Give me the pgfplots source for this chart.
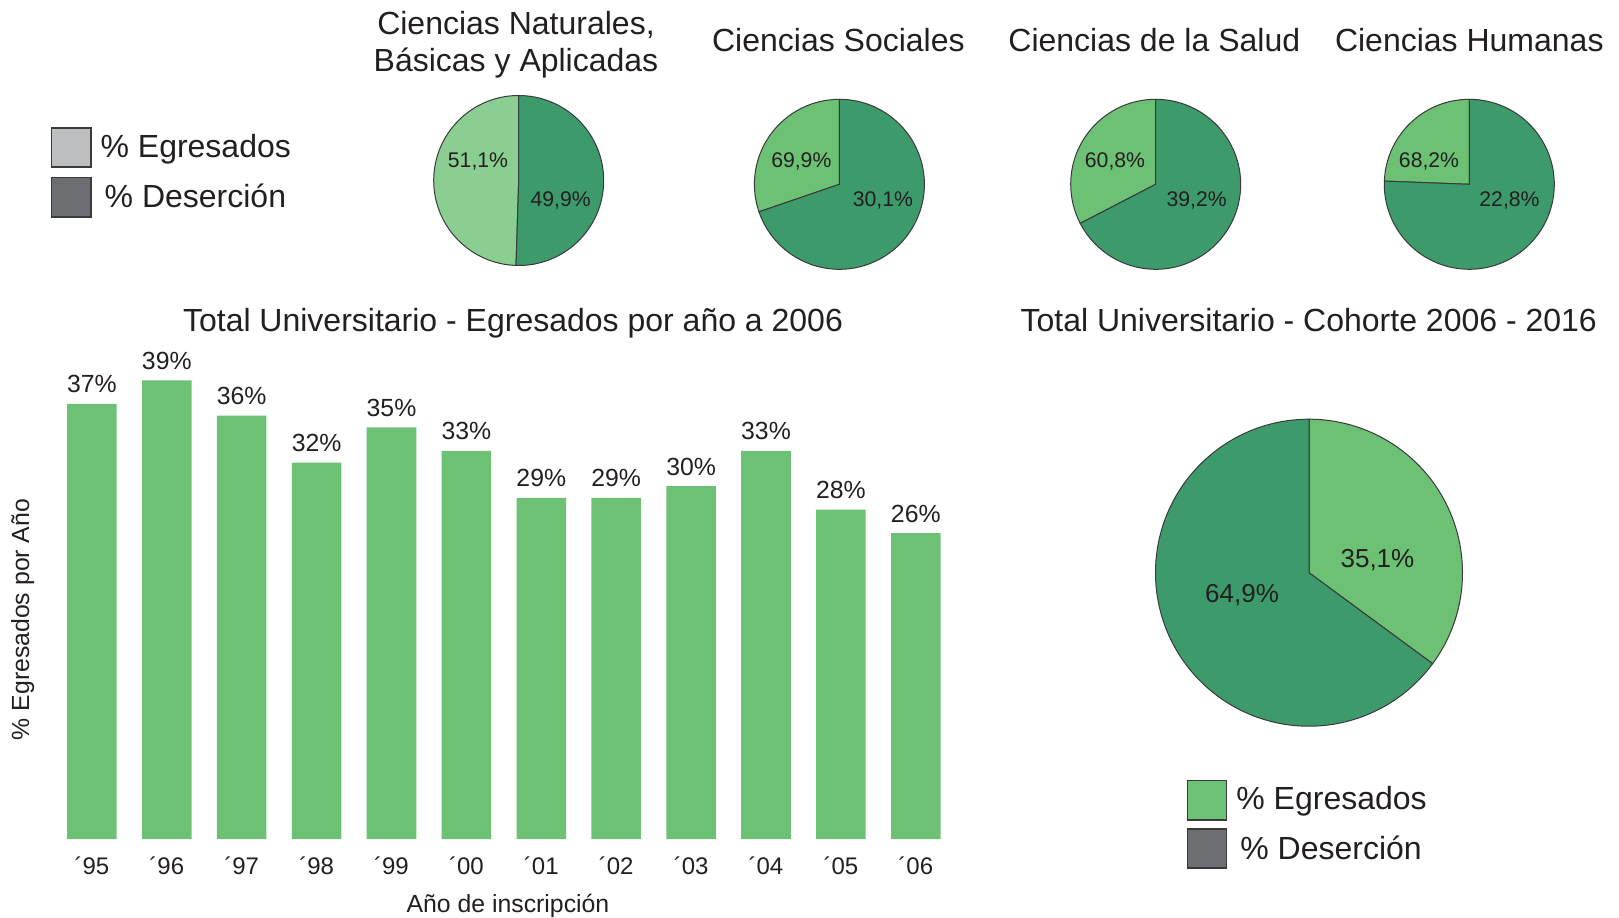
\documentclass[border=0pt]{standalone}
\usepackage{pgfplots}
\pgfplotsset{compat=1.18}
\usepackage{fontspec}
\setmainfont{Liberation Sans}
\definecolor{barG}{HTML}{6CC174}
\definecolor{lightG}{HTML}{8ACE91}
\definecolor{darkG}{HTML}{3D9A6A}
\definecolor{greyA}{HTML}{BCBEC0}
\definecolor{greyB}{HTML}{6D6E71}
\definecolor{outl}{HTML}{3A3A3A}
\definecolor{txt}{HTML}{231F20}
\newcommand{\fs}[1]{\fontsize{#1}{#1}\selectfont}
% slice: start angle, end angle, radius, fill
\newcommand{\slice}[4]{\filldraw[fill=#4, draw=outl, line width=0.5pt, line join=round] (axis cs:0,0) -- ++(#1:#3) arc[start angle=#1, end angle=#2, radius=#3] -- cycle;}
% two-slice pie: light share (percent, measured on the picture) counter-clockwise from the top
\newcommand{\pieccw}[4]{\pgfmathsetmacro{\pa}{90+3.6*#1}\slice{90}{\pa}{#2}{#3}\slice{\pa}{450}{#2}{#4}}
\pgfplotsset{pie/.style={scale only axis, hide axis, clip=false, xmin=-1,xmax=1,ymin=-1,ymax=1, anchor=south west}}
\begin{document}
\begin{tikzpicture}[x=0.5pt,y=0.5pt, every node/.append style={text=txt}]
\useasboundingbox (0,0) rectangle (1619,917);

% ---------- titles ----------
\node[anchor=base, font=\fs{16}] at (516,882.8) {Ciencias Naturales,};
\node[anchor=base, font=\fs{16}] at (516,845.6) {Básicas y Aplicadas};
\node[anchor=base, font=\fs{16}] at (838.4,865.2) {Ciencias Sociales};
\node[anchor=base, font=\fs{16}] at (1154.3,865.2) {Ciencias de la Salud};
\node[anchor=base, font=\fs{16}] at (1469.3,865.2) {Ciencias Humanas};
\node[anchor=base, font=\fs{16}] at (513,585.5) {Total Universitario - Egresados por año a 2006};
\node[anchor=base, font=\fs{16}] at (1308.7,585.5) {Total Universitario - Cohorte 2006 - 2016};

% ---------- legends ----------
\filldraw[fill=greyA, draw=outl, line width=0.75pt] (51.6,750) rectangle (90.9,789);
\filldraw[fill=greyB, draw=outl, line width=0.75pt] (51.6,700.2) rectangle (90.9,739.4);
\node[anchor=base west, font=\fs{16}, inner sep=0pt] at (100.2,759) {\% Egresados};
\node[anchor=base west, font=\fs{16}, inner sep=0pt] at (104.3,709.3) {\% Deserción};

\filldraw[fill=barG, draw=outl, line width=0.75pt] (1187.4,97.2) rectangle (1226.6,136.4);
\filldraw[fill=greyB, draw=outl, line width=0.75pt] (1187.4,49) rectangle (1226.6,88);
\node[anchor=base west, font=\fs{16}, inner sep=0pt] at (1236,107.5) {\% Egresados};
\node[anchor=base west, font=\fs{16}, inner sep=0pt] at (1240,57.8) {\% Deserción};

% ---------- small pies ----------
\begin{axis}[pie, at={(216.85pt,325.75pt)}, width=85pt, height=85pt]
\pieccw{49.5}{42.5pt}{lightG}{darkG}
\node[anchor=base, font=\fs{10.6}] at (axis cs:-0.479,0.152) {51,1\%};
\node[anchor=base, font=\fs{10.6}] at (axis cs:0.494,-0.310) {49,9\%};
\end{axis}

\begin{axis}[pie, at={(377.2pt,323.85pt)}, width=85pt, height=85pt]
\pieccw{30.25}{42.5pt}{barG}{darkG}
\node[anchor=base, font=\fs{10.6}] at (axis cs:-0.448,0.197) {69,9\%};
\node[anchor=base, font=\fs{10.6}] at (axis cs:0.512,-0.265) {30,1\%};
\end{axis}

\begin{axis}[pie, at={(535.35pt,323.85pt)}, width=85pt, height=85pt]
\pieccw{32.6}{42.5pt}{barG}{darkG}
\node[anchor=base, font=\fs{10.6}] at (axis cs:-0.479,0.197) {60,8\%};
\node[anchor=base, font=\fs{10.6}] at (axis cs:0.482,-0.265) {39,2\%};
\end{axis}

\begin{axis}[pie, at={(692.15pt,323.85pt)}, width=85pt, height=85pt]
\pieccw{24.4}{42.5pt}{barG}{darkG}
\node[anchor=base, font=\fs{10.6}] at (axis cs:-0.474,0.197) {68,2\%};
\node[anchor=base, font=\fs{10.6}] at (axis cs:0.473,-0.265) {22,8\%};
\end{axis}

% ---------- big pie ----------
\begin{axis}[pie, at={(577.75pt,95.4pt)}, width=153.5pt, height=153.5pt]
\pgfmathsetmacro{\pb}{90-3.6*35.1}
\slice{\pb}{90}{76.75pt}{barG}
\slice{90}{\pb+360}{76.75pt}{darkG}
\node[anchor=base, font=\fs{13}] at (axis cs:0.446,0.031) {35,1\%};
\node[anchor=base, font=\fs{13}] at (axis cs:-0.436,-0.191) {64,9\%};
\end{axis}

% ---------- bar chart ----------
\begin{axis}[
  at={(27.225pt,39pt)}, anchor=south west,
  scale only axis, width=449.4pt, height=235.2pt,
  xmin=-0.5, xmax=11.5, ymin=0, ymax=40,
  ybar, bar width=0.662,
  axis line style={draw=none}, ytick=\empty,
  xtick={0,...,11},
  xticklabels={´95,´96,´97,´98,´99,´00,´01,´02,´03,´04,´05,´06},
  major tick length=0pt,
  xticklabel style={font=\fs{12}, anchor=center, yshift=-13.5pt, text=txt},
  /pgf/number format/assume math mode=true,
  nodes near coords={\pgfmathprintnumber{\pgfplotspointmeta}\%},
  nodes near coords style={font=\fs{12.4}, anchor=base, yshift=5.5pt, text=txt},
  xlabel={Año de inscripción},
  ylabel={\% Egresados por Año},
  xlabel style={font=\fs{12.4}, at={(axis description cs:0.5046,-0.1425)}, anchor=center, text=txt},
  ylabel style={font=\fs{12.4}, at={(axis description cs:-0.0353,0.4666)}, anchor=center, text=txt},
  clip=false,
]
\addplot[fill=barG, draw=none] coordinates {(0,37) (1,39) (2,36) (3,32) (4,35) (5,33) (6,29) (7,29) (8,30) (9,33) (10,28) (11,26)};
\end{axis}
\end{tikzpicture}
\end{document}
